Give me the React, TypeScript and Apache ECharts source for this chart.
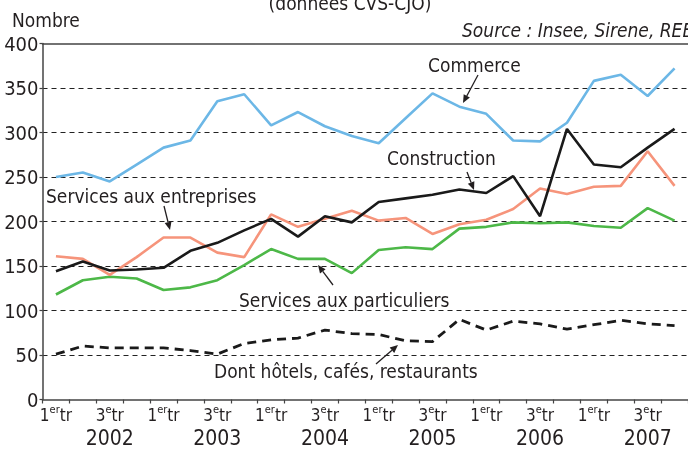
import React, { useEffect, useRef } from "react";
import * as echarts from "echarts";

const years = ["2002", "2003", "2004", "2005", "2006", "2007"];
const quarters = ["T1", "T2", "T3", "T4"];
const categories = years.flatMap((y) => quarters.map((q) => `${y} ${q}`));

const commerce = [250, 255, 245, 264, 283, 291, 335, 343, 308, 323, 307, 296, 288, 316, 344, 329, 321, 291, 290, 311, 358, 365, 341, 372];
const construction = [144, 155, 145, 146, 148, 167, 176, 190, 203, 183, 206, 199, 222, 226, 230, 236, 232, 251, 206, 304, 264, 261, 283, 304];
const servEntreprises = [161, 158, 140, 160, 182, 182, 165, 160, 208, 194, 203, 212, 201, 204, 186, 197, 202, 214, 237, 231, 239, 240, 279, 240];
const servParticuliers = [118, 134, 138, 136, 123, 126, 134, 151, 169, 158, 158, 142, 168, 171, 169, 192, 194, 199, 198, 199, 195, 193, 215, 201];
const hotels = [51, 60, 58, 58, 58, 55, 51, 63, 67, 69, 78, 74, 73, 66, 65, 90, 78, 88, 85, 79, 84, 89, 85, 83];

const NARROW = '"Liberation Sans Narrow", "DejaVu Sans Condensed", sans-serif';
const COND = '"DejaVu Sans Condensed", "Liberation Sans Narrow", sans-serif';
const INK = "#231f20";

function arrow(x1: number, y1: number, x2: number, y2: number) {
  const dx = x2 - x1, dy = y2 - y1;
  const L = Math.hypot(dx, dy);
  const ux = dx / L, uy = dy / L;
  const hl = 8, hw = 3.5;
  const bx = x2 - ux * hl, by = y2 - uy * hl;
  return [
    { type: "line", z: 100, shape: { x1, y1, x2: bx, y2: by }, style: { stroke: INK, lineWidth: 1.3 } },
    {
      type: "polygon",
      z: 100,
      shape: { points: [[x2, y2], [bx - uy * hw, by + ux * hw], [bx + uy * hw, by - ux * hw]] },
      style: { fill: INK },
    },
  ];
}

function label(text: string, x: number, y: number, extra: any = {}) {
  return {
    type: "text",
    z: 100,
    x,
    y,
    style: { text, fill: INK, font: `19px ${COND}`, textVerticalAlign: "middle", ...extra },
  };
}

export default function App() {
  const ref = useRef<HTMLDivElement>(null);
  useEffect(() => {
    if (!ref.current) return;
    const chart = echarts.init(ref.current, null, { renderer: "svg" });
    const lineSeries = (name: string, data: number[], color: string, dashed = false) => ({
      name,
      type: "line",
      data,
      symbol: "none",
      lineStyle: { color, width: dashed ? 2.8 : 2.6, type: dashed ? [9, 6] : "solid" },
      z: 3,
    });
    chart.setOption({
      animation: false,
      grid: { left: 42.5, top: 43.5, width: 648, height: 356 },
      xAxis: [
        {
          type: "category",
          data: categories,
          boundaryGap: true,
          axisLine: { lineStyle: { color: "#444", width: 1.5 } },
          axisTick: { show: true, interval: 0, length: 4, lineStyle: { color: "#444", width: 1.2 } },
          axisLabel: {
            interval: 0,
            margin: 4,
            color: INK,
            formatter: (_v: string, idx: number) => {
              const q = idx % 4;
              const y = years[Math.floor(idx / 4)];
              if (q === 0) return "{q|1}{s|er}{q|tr}";
              if (q === 2) return `{q|3}{s|e}{q|tr}\n{y|${y}}`;
              return "";
            },
            rich: {
              q: { fontSize: 17, fontFamily: NARROW, lineHeight: 22, color: INK },
              s: { fontSize: 11, fontFamily: NARROW, lineHeight: 11, verticalAlign: "top", color: INK },
              y: { fontSize: 21, fontFamily: NARROW, lineHeight: 24, color: INK },
            },
          },
          splitLine: { show: false },
        },
        {
          type: "category",
          data: categories,
          position: "top",
          axisLine: { lineStyle: { color: "#444", width: 1.5 } },
          axisTick: { show: false },
          axisLabel: { show: false },
        },
      ],
      yAxis: {
        type: "value",
        min: 0,
        max: 400,
        interval: 50,
        axisLine: { show: true, lineStyle: { color: "#444", width: 1.5 } },
        axisTick: { show: true, length: 3, lineStyle: { color: "#444", width: 1.2 } },
        axisLabel: { margin: 4, color: INK, fontSize: 20, fontFamily: NARROW },
        splitLine: {
          show: true,
          showMinLine: false,
          showMaxLine: false,
          lineStyle: { color: "#222", width: 1.2, type: [5, 4] },
        },
      },
      series: [
        lineSeries("Dont hôtels, cafés, restaurants", hotels, "#1a1a1a", true),
        lineSeries("Services aux particuliers", servParticuliers, "#4db848"),
        lineSeries("Services aux entreprises", servEntreprises, "#f6947b"),
        lineSeries("Commerce", commerce, "#6cb7e6"),
        lineSeries("Construction", construction, "#1a1a1a"),
      ],
      graphic: [
        label("(données CVS-CJO)", 350, 3, { textAlign: "center" }),
        label("Nombre", 12, 20),
        label("Source : Insee, Sirene, REE", 462, 30, { font: `italic 19px ${COND}` }),
        label("Commerce", 428, 65),
        ...arrow(478, 75, 463, 103),
        label("Construction", 387, 158),
        ...arrow(467, 172, 474, 190),
        label("Services aux entreprises", 46, 196),
        ...arrow(164, 206, 170, 230),
        label("Services aux particuliers", 239, 299.5),
        ...arrow(333, 285, 318, 265),
        label("Dont hôtels, cafés, restaurants", 214, 370.5),
        ...arrow(376, 364, 398, 345),
      ],
    });
    return () => chart.dispose();
  }, []);
  return <div ref={ref} style={{ position: "fixed", left: 0, top: 0, width: 688, height: 450 }} />;
}
